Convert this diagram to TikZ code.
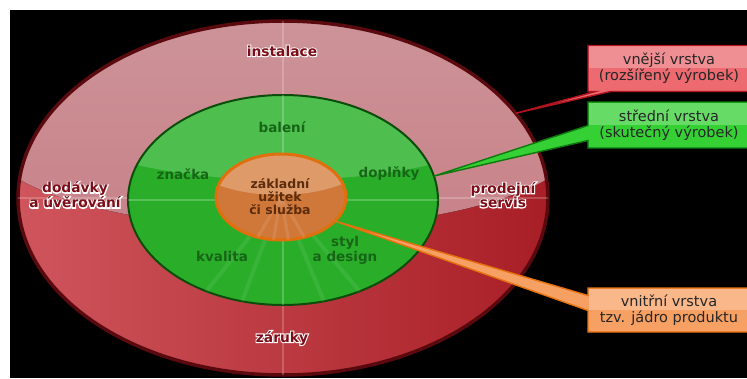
\documentclass[tikz,border=0pt]{standalone}
\usepackage{fontspec}
\setmainfont{DejaVu Sans}
\usetikzlibrary{shapes.geometric,shapes.callouts}

\definecolor{ringedge}{HTML}{5A0A0E}
\definecolor{ringleft}{HTML}{CF555C}
\definecolor{ringright}{HTML}{A81E26}
\definecolor{ringtop}{HTML}{CD959A}
\definecolor{ringmid}{HTML}{C4767D}
\definecolor{ringtext}{HTML}{7A0E18}
\definecolor{greenbase}{HTML}{2AAE2A}
\definecolor{greenlight}{HTML}{4EBF4E}
\definecolor{greenedge}{HTML}{0C4D0C}
\definecolor{greentext}{HTML}{166616}
\definecolor{orangebase}{HTML}{D0783A}
\definecolor{orangelight}{HTML}{DE9A68}
\definecolor{orangeedge}{HTML}{E0700E}
\definecolor{coretext}{HTML}{5C2C0C}
\definecolor{redbox}{HTML}{EC6A70}
\definecolor{redboxedge}{HTML}{B0141E}
\definecolor{greenbox}{HTML}{34D034}
\definecolor{greenboxedge}{HTML}{0E7A0E}
\definecolor{orangebox}{HTML}{F7A064}
\definecolor{orangeboxedge}{HTML}{E4700E}

\newcommand{\halo}[1]{\rlap{\special{pdf:literal direct 1 Tr 2 w 1 1 1 RG}#1\special{pdf:literal direct 0 Tr}}#1}

\begin{document}
\begin{tikzpicture}[x=1pt,y=1pt,
    ring/.style={ellipse,inner sep=0pt,outer sep=0pt},
    ringlabel/.style={font=\bfseries\fontsize{13.8}{14}\selectfont,text=ringtext,align=center},
    greenlabel/.style={font=\bfseries\fontsize{13.5}{15}\selectfont,text=greentext,align=center},
    layerbox/.style={rectangle callout,minimum width=162pt,minimum height=46pt,inner sep=0pt,
      callout pointer width=15pt,line width=1.4pt},
    boxtext/.style={align=center,font=\fontsize{14.5}{16}\selectfont,text=black!85}]
    \useasboundingbox (-283,-180) rectangle (464,198);
    \fill[white] (-283,-180) rectangle (464,198);
    \fill[black] (-273,-180) rectangle (464,188);

    \node [ring,minimum width=530pt,minimum height=354pt,left color=ringleft,right color=ringright,
      draw=ringedge,line width=3.5pt,
      path picture={\fill[top color=ringtop,bottom color=ringmid] (-300,63)
        arc[start angle=180,end angle=360,x radius=300,y radius=93] -- (300,200) -- (-300,200) -- cycle;}]
      (outer) at (0,0) {};
    \draw [white,opacity=.2,line width=1.5pt] (outer.north) -- (outer.south);
    \draw [white,opacity=.2,line width=1.5pt] (outer.west) -- (outer.east);

    \node [ring,minimum width=310pt,minimum height=210pt,fill=greenbase,draw=greenedge,line width=2pt,
      path picture={\fill[greenlight] (-250,100)
        arc[start angle=180,end angle=360,x radius=250,y radius=80] -- (250,200) -- (-250,200) -- cycle;}]
      (middle) at (0,-2) {};
    \draw [white,opacity=.22,line width=2pt] (middle.north) -- (middle.south);
    \draw [white,opacity=.22,line width=2pt] (middle.west) -- (middle.east);
    \foreach \a in {-50,-68,-112,-130}
        \draw [white,opacity=.07,line width=4pt] (-2,1) -- (middle.\a);

    \node [ring,minimum width=130pt,minimum height=86pt,fill=orangebase,draw=orangeedge,line width=3pt,
      path picture={\fill[orangelight] (-112,62)
        arc[start angle=180,end angle=360,x radius=110,y radius=60] -- (108,120) -- (-112,120) -- cycle;}]
      (inner) at (-2,1) {};
    \foreach \a in {-60,-80,-100,-120}
        \draw [white,opacity=.1,line width=3pt] (inner.center) -- (inner.\a);

    \node [ringlabel] (instalace) at (-1,147) {\halo{instalace}};
    \node [ringlabel] (zaruky) at (-1,-140) {\halo{záruky}};
    \node [ringlabel] (dodavky) at (-208,3) {\halo{dodávky}\\\halo{a úvěrování}};
    \node [ringlabel] (servis) at (220,3) {\halo{prodejní}\\\halo{servis}};

    \node [greenlabel] (baleni) at (-1,71) {balení};
    \node [greenlabel] (znacka) at (-100,24) {značka};
    \node [greenlabel] (doplnky) at (106,24) {doplňky};
    \node [greenlabel] (kvalita) at (-61,-58) {kvalita};
    \node [greenlabel] (design) at (62,-52) {styl\\a design};

    \node [font=\bfseries\fontsize{12.5}{13}\selectfont,text=coretext,align=center] (core) at (-3,1)
      {základní\\užitek\\či služba};

    \node [layerbox,fill=redbox,draw=redboxedge,callout absolute pointer={(outer.20)}]
      (vnejsi) at (386,129.5) {};
    \node [layerbox,fill=greenbox,draw=greenboxedge,callout absolute pointer={(middle.9)}]
      (stredni) at (386,73) {};
    \node [layerbox,minimum height=44pt,fill=orangebox,draw=orangeboxedge,callout absolute pointer={(inner.-24)}]
      (vnitrni) at (386,-112) {};
    \foreach \b in {vnejsi,stredni,vnitrni}
        \fill [white,opacity=.25] ([shift={(1.5pt,-1.5pt)}]\b.north west) rectangle ([xshift=-1.5pt]\b.east);

    \node [boxtext] (vnejsi text) at (vnejsi) {vnější vrstva\\(rozšířený výrobek)};
    \node [boxtext] (stredni text) at (stredni) {střední vrstva\\(skutečný výrobek)};
    \node [boxtext] (vnitrni text) at (vnitrni) {vnitřní vrstva\\tzv. jádro produktu};
\end{tikzpicture}
\end{document}
